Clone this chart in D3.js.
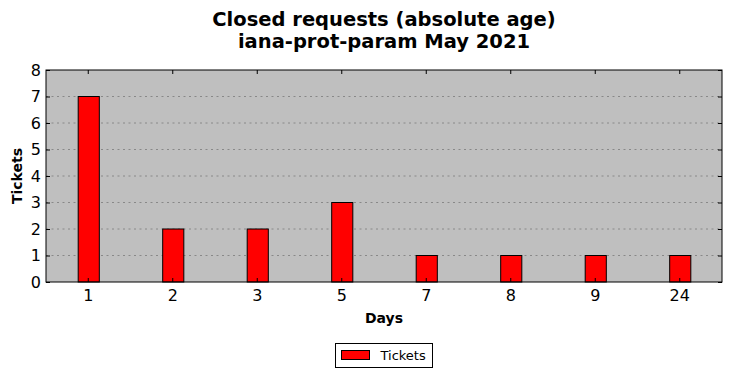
<!DOCTYPE html>
<html>
<head>
<meta charset="utf-8">
<script src="https://d3js.org/d3.v7.min.js"></script>
<style>
  body { margin: 0; background: #fff; }
  text { font-family: "DejaVu Sans", sans-serif; }
</style>
</head>
<body>
<script>
const categories = ["1", "2", "3", "5", "7", "8", "9", "24"];
const tickets = [7, 2, 2, 3, 1, 1, 1, 1];
const yTicks = [0, 1, 2, 3, 4, 5, 6, 7, 8];
const titleLines = ["Closed requests (absolute age)", "iana-prot-param May 2021"];

const W = 732, H = 378;
const m = {top: 70, right: 10, bottom: 96, left: 46};
const iw = W - m.left - m.right, ih = H - m.top - m.bottom;

const svg = d3.select("body").append("svg")
    .attr("width", W).attr("height", H);

const x = d3.scaleBand().domain(categories).range([0, iw]);
const y = d3.scaleLinear().domain([0, 8]).range([ih, 0]);

const g = svg.append("g").attr("transform", `translate(${m.left},${m.top})`);

g.append("rect").attr("width", iw).attr("height", ih).attr("fill", "#bfbfbf");

// grid
g.selectAll(".grid").data(yTicks.slice(1, -1)).join("line")
    .attr("x1", 0).attr("x2", iw)
    .attr("y1", d => y(d)).attr("y2", d => y(d))
    .attr("stroke", "#888").attr("stroke-width", 1)
    .attr("stroke-dasharray", "2,3.5");

// bars
const bw = x.bandwidth() * 0.25;
g.selectAll(".bar").data(tickets).join("rect")
    .attr("x", (d, i) => x(categories[i]) + x.bandwidth() / 2 - bw / 2 + 0.5)
    .attr("y", d => y(d))
    .attr("width", bw)
    .attr("height", d => ih - y(d))
    .attr("fill", "#ff0000").attr("stroke", "#000").attr("stroke-width", 1);

// axes with inward ticks
const tl = 4;
const yAxis = d3.axisLeft(y).tickValues(yTicks).tickSize(-tl).tickPadding(5);
const yAxisR = d3.axisRight(y).tickValues(yTicks).tickSize(-tl).tickFormat("");
const xAxis = d3.axisBottom(x).tickSize(-tl).tickPadding(8);
const xAxisT = d3.axisTop(x).tickSize(-tl).tickFormat("");

function style(sel) {
  sel.select(".domain").remove();
  sel.selectAll("line").attr("stroke", "#000");
  sel.selectAll("text").attr("font-size", 16).attr("fill", "#000");
}
g.append("g").call(yAxis).call(style);
g.append("g").attr("transform", `translate(${iw},0)`).call(yAxisR).call(style);
g.append("g").attr("transform", `translate(0,${ih})`).call(xAxis).call(style);
g.append("g").call(xAxisT).call(style);

g.append("rect").attr("width", iw).attr("height", ih)
    .attr("fill", "none").attr("stroke", "#000").attr("stroke-width", 1);

// titles
svg.append("g").selectAll("text").data(titleLines).join("text")
    .attr("x", m.left + iw / 2).attr("y", (d, i) => 26 + i * 22)
    .attr("text-anchor", "middle").attr("font-size", 19.5).attr("font-weight", "bold")
    .text(d => d);

svg.append("text").attr("x", m.left + iw / 2).attr("y", 323)
    .attr("text-anchor", "middle").attr("font-size", 14).attr("font-weight", "bold")
    .text("Days");

svg.append("text").attr("transform", `translate(22,${m.top + ih / 2}) rotate(-90)`)
    .attr("text-anchor", "middle").attr("font-size", 14).attr("font-weight", "bold")
    .text("Tickets");

// legend
const lg = svg.append("g").attr("transform", "translate(335.5,343.5)");
lg.append("rect").attr("width", 97).attr("height", 24)
    .attr("fill", "#fff").attr("stroke", "#000");
lg.append("rect").attr("x", 6).attr("y", 7).attr("width", 28).attr("height", 9)
    .attr("fill", "#ff0000").attr("stroke", "#000");
lg.append("text").attr("x", 45).attr("y", 16.5).attr("font-size", 13).text("Tickets");
</script>
</body>
</html>
